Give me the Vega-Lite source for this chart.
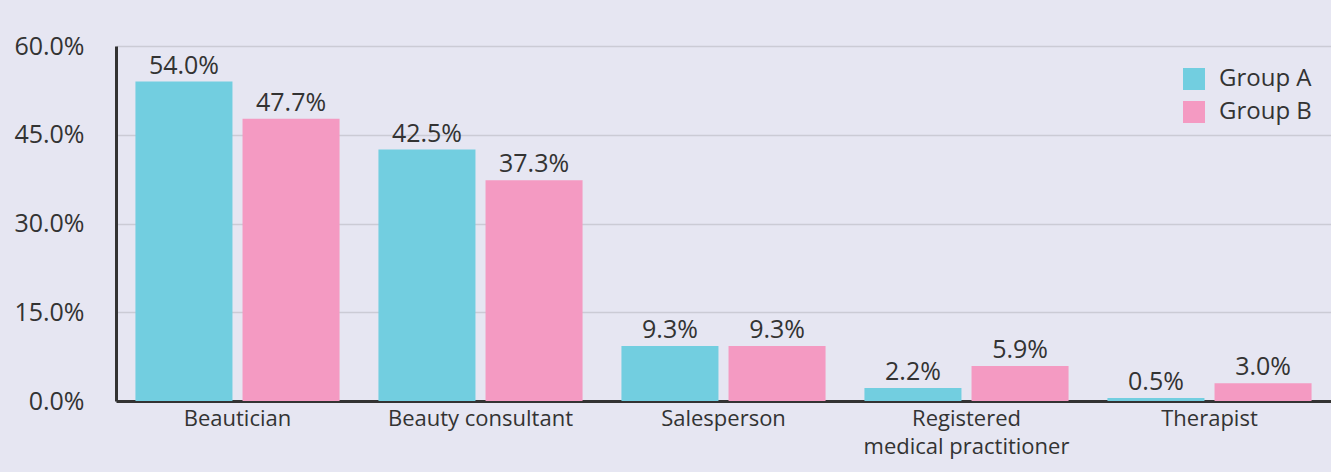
{
  "$schema": "https://vega.github.io/schema/vega-lite/v6.json",
  "autosize": {"type": "none"},
  "padding": {"left": 116, "top": 46, "right": 0, "bottom": 71},
  "width": 1215,
  "height": 355,
  "background": "#E6E6F2",
  "config": {
    "font": "Open Sans",
    "view": {"stroke": null},
    "axis": {"labelColor": "#333333", "labelFont": "Open Sans"}
  },
  "data": {
    "values": [
      {"occupation": "Beautician", "group": "Group A", "share": 0.540},
      {"occupation": "Beautician", "group": "Group B", "share": 0.477},
      {"occupation": "Beauty consultant", "group": "Group A", "share": 0.425},
      {"occupation": "Beauty consultant", "group": "Group B", "share": 0.373},
      {"occupation": "Salesperson", "group": "Group A", "share": 0.093},
      {"occupation": "Salesperson", "group": "Group B", "share": 0.093},
      {"occupation": "Registered medical practitioner", "group": "Group A", "share": 0.022},
      {"occupation": "Registered medical practitioner", "group": "Group B", "share": 0.059},
      {"occupation": "Therapist", "group": "Group A", "share": 0.005},
      {"occupation": "Therapist", "group": "Group B", "share": 0.030}
    ]
  },
  "encoding": {
    "x": {
      "field": "occupation", "type": "nominal", "sort": null,
      "scale": {"paddingInner": 0.16, "paddingOuter": 0.08},
      "axis": {
        "title": null, "labelAngle": 0, "labelFontSize": 22, "ticks": false,
        "labelPadding": 7, "domainColor": "#333333", "domainWidth": 3,
        "labelLineHeight": 28, "labelLimit": 400,
        "labelExpr": "datum.value == 'Registered medical practitioner' ? ['Registered', 'medical practitioner'] : datum.value"
      }
    },
    "xOffset": {"field": "group", "type": "nominal", "scale": {"paddingInner": 0.094}},
    "y": {
      "field": "share", "type": "quantitative",
      "scale": {"domain": [0, 0.6], "nice": false},
      "axis": {
        "title": null, "values": [0, 0.15, 0.3, 0.45, 0.6], "ticks": false,
        "format": ".1%",
        "labelFontSize": 25, "labelPadding": 32,
        "domainColor": "#333333", "domainWidth": 3,
        "gridColor": "#CBCBD5", "gridWidth": 1.5
      }
    }
  },
  "layer": [
    {
      "mark": {"type": "bar"},
      "encoding": {
        "color": {
          "field": "group", "type": "nominal",
          "scale": {"domain": ["Group A", "Group B"], "range": ["#72CEE0", "#F49AC2"]},
          "legend": {
            "title": null, "orient": "none", "legendX": 1066, "legendY": 21,
            "symbolType": "square", "symbolSize": 484, "symbolStrokeWidth": 0,
            "labelFontSize": 24, "labelColor": "#333333", "labelOffset": 13,
            "rowPadding": 9
          }
        }
      }
    },
    {
      "mark": {"type": "text", "baseline": "bottom", "dy": -3, "fontSize": 25, "color": "#333333"},
      "encoding": {
        "text": {"field": "share", "type": "quantitative", "format": ".1%"},
        "detail": {"field": "group"}
      }
    }
  ]
}
